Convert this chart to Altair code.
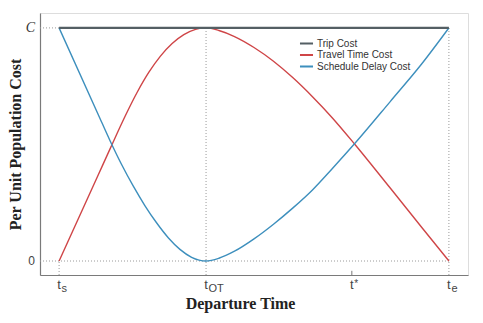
import altair as alt
import pandas as pd

# ---- data ----
series_names = ["Trip Cost", "Travel Time Cost", "Schedule Delay Cost"]
series_colors = ["#545f64", "#cf4547", "#3d8fbd"]

trip_x = [0.0, 1.0]
trip_y = [1.0, 1.0]

travel_x = [0.0, 0.10, 0.131, 0.169, 0.20, 0.23, 0.26, 0.29, 0.32, 0.35, 0.377,
            0.41, 0.45, 0.50, 0.55, 0.60, 0.65, 0.70, 0.759, 0.85, 0.93, 1.0]
travel_y = [0.0, 0.368, 0.482, 0.620, 0.723, 0.809, 0.879, 0.933, 0.971, 0.994, 1.0,
            0.989, 0.963, 0.916, 0.857, 0.786, 0.705, 0.616, 0.500, 0.312, 0.145, 0.0]

sched_x = [0.0, 0.10, 0.131, 0.16, 0.19, 0.22, 0.25, 0.28, 0.31, 0.34, 0.377,
           0.41, 0.45, 0.50, 0.55, 0.60, 0.65, 0.70, 0.759, 0.85, 0.93, 1.0]
sched_y = [1.0, 0.63, 0.515, 0.415, 0.322, 0.238, 0.164, 0.100, 0.050, 0.016, 0.0,
           0.012, 0.042, 0.095, 0.158, 0.228, 0.305, 0.395, 0.505, 0.685, 0.845, 1.0]

tick_pos = [0.0, 0.377, 0.751, 1.0]          # ts, tOT, t*, te
tick_main = ["t", "t", "t", "t"]
tick_sub = ["s", "OT", "", "e"]
tick_sup = ["", "", "*", ""]

y_tick_vals = [0.0, 1.0]
y_tick_text = ["0", "C"]

x_dom = [-0.049, 1.049]
y_dom = [-0.06, 1.064]

# ---- tables ----
def series_df(name, xs_, ys_):
    return pd.DataFrame({"series": name, "x": xs_, "y": ys_, "order": list(range(len(xs_)))})

trip_df = series_df(series_names[0], trip_x, trip_y)
curves_df = pd.concat([series_df(series_names[1], travel_x, travel_y),
                       series_df(series_names[2], sched_x, sched_y)], ignore_index=True)

ts, tOT, tstar, te = tick_pos
refs_df = pd.DataFrame([
    {"x": x_dom[0], "x2": te, "y": 0.0, "y2": 0.0},
    {"x": x_dom[0], "x2": ts, "y": 1.0, "y2": 1.0},
    {"x": ts, "x2": ts, "y": y_dom[0], "y2": 0.0},
    {"x": tOT, "x2": tOT, "y": y_dom[0], "y2": 1.0},
    {"x": te, "x2": te, "y": y_dom[0], "y2": 1.0},
])

ticks_df = pd.DataFrame({"x": tick_pos, "main": tick_main, "sub": tick_sub,
                         "sup": tick_sup, "y": [y_dom[0]] * 4})
ylab_df = pd.DataFrame({"y": y_tick_vals, "txt": y_tick_text, "x": [x_dom[0]] * 2})

xs = alt.Scale(domain=x_dom, nice=False, zero=False)
ys = alt.Scale(domain=y_dom, nice=False, zero=False)

xaxis = alt.Axis(title="Departure Time", labels=False, ticks=False, grid=False,
                 domainColor="#7a7a7a", domainWidth=1.2,
                 titleFont="Liberation Serif", titleFontSize=16, titleFontWeight="bold",
                 titleColor="#222", titleX=200, titleY=33, titleBaseline="alphabetic")
yaxis = alt.Axis(title="Per Unit Population Cost", labels=False, ticks=False, grid=False,
                 domainColor="#7a7a7a", domainWidth=1.2,
                 titleFont="Liberation Serif", titleFontSize=16, titleFontWeight="bold",
                 titleColor="#222", titlePadding=17)

color_enc = alt.Color("series:N",
                      scale=alt.Scale(domain=series_names, range=series_colors),
                      legend=alt.Legend(title=None, orient="none", legendX=259, legendY=25,
                                        symbolType="stroke", symbolSize=170,
                                        symbolStrokeWidth=1.8, labelFont="Liberation Sans",
                                        labelFontSize=10, labelColor="#333",
                                        labelOffset=3, rowPadding=0.5, padding=0,
                                        clipHeight=11))

refs = alt.Chart(refs_df).mark_rule(color="#9a9a9a", strokeDash=[1, 2], strokeWidth=1).encode(
    x=alt.X("x:Q", scale=xs, axis=xaxis), x2="x2:Q",
    y=alt.Y("y:Q", scale=ys, axis=yaxis), y2="y2:Q")

trip = alt.Chart(trip_df).mark_line(strokeWidth=2.2).encode(
    x=alt.X("x:Q", scale=xs), y=alt.Y("y:Q", scale=ys), order="order:Q", color=color_enc)

curves = alt.Chart(curves_df).mark_line(strokeWidth=1.4, interpolate="monotone").encode(
    x=alt.X("x:Q", scale=xs), y=alt.Y("y:Q", scale=ys), order="order:Q", color=color_enc)

tstar_tick = alt.Chart(ticks_df[ticks_df["sup"] != ""]).mark_rule(color="#7a7a7a").encode(
    x="x:Q", y="y:Q", y2=alt.datum(y_dom[0] + 0.018))

main_lab = alt.Chart(ticks_df).mark_text(font="Liberation Sans", fontSize=13, color="#444",
                                         align="center", baseline="alphabetic", dy=13.5).encode(
    x="x:Q", y="y:Q", text="main:N")
sub_lab = alt.Chart(ticks_df).mark_text(font="Liberation Sans", fontSize=11, color="#444",
                                        align="left", baseline="alphabetic", dx=2.5, dy=17).encode(
    x="x:Q", y="y:Q", text="sub:N")
sup_lab = alt.Chart(ticks_df).mark_text(font="Liberation Sans", fontSize=10, color="#444",
                                        align="left", baseline="alphabetic", dx=2.5, dy=12).encode(
    x="x:Q", y="y:Q", text="sup:N")

c_lab = alt.Chart(ylab_df[ylab_df["txt"] == "C"]).mark_text(
    font="Liberation Serif", fontStyle="italic", fontSize=14, color="#333",
    align="right", baseline="middle", dx=-5).encode(x="x:Q", y="y:Q", text="txt:N")
z_lab = alt.Chart(ylab_df[ylab_df["txt"] == "0"]).mark_text(
    font="Liberation Sans", fontSize=12, color="#444",
    align="right", baseline="middle", dx=-5).encode(x="x:Q", y="y:Q", text="txt:N")

chart = alt.layer(refs, curves, trip, tstar_tick, main_lab, sub_lab, sup_lab, c_lab, z_lab).properties(
    width=428, height=262,
    autosize=alt.AutoSizeParams(type="none"),
    padding={"left": 32, "top": 5, "right": 7, "bottom": 40},
).configure_view(stroke=None).configure(background="white")

chart.save("out.html", embed_options={"renderer": "svg", "actions": False})
